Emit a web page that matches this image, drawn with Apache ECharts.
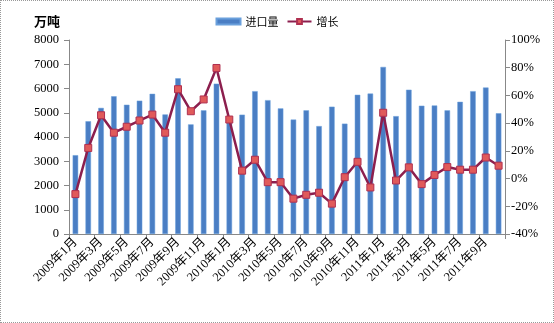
<!DOCTYPE html>
<html><head><meta charset="utf-8">
<script src="https://cdn.jsdelivr.net/npm/echarts@6/dist/echarts.min.js"></script>
<style>
html,body{margin:0;padding:0;background:#fff;}
#c{width:554px;height:323px;box-sizing:border-box;border:1px dotted #999;}
</style></head>
<body><div id="c"></div>
<script>
const categories = [];
const years = [2009, 2010, 2011];
for (const y of years) { for (let m = 1; m <= 12; m++) { if (y === 2011 && m > 10) break; categories.push(y + '年' + m + '月'); } }
const importVolume = [3250, 4650, 5200, 5680, 5330, 5500, 5780, 4930, 6420, 4520, 5100, 6200,
  4830, 4920, 5890, 5520, 5180, 4720, 5100, 4450, 5250, 4550, 5740, 5790,
  6890, 4860, 5950, 5290, 5300, 5100, 5450, 5890, 6040, 4980];
const growth = [-11.2, 22.1, 45.7, 33.1, 37.4, 41.9, 46.2, 33.1, 64.5, 48.6, 57.1, 79.8,
  42.6, 5.7, 13.6, -2.6, -2.6, -14.5, -11.7, -10.2, -18.1, 1.0, 12.1, -6.4,
  47.5, -1.4, 8.1, -4.0, 2.6, 8.3, 6.4, 6.4, 15.2, 9.3];
const leftTicks = [0, 1000, 2000, 3000, 4000, 5000, 6000, 7000, 8000];
const rightTicks = [-40, -20, 0, 20, 40, 60, 80, 100];

const font = '"Liberation Serif","Noto Sans CJK SC",serif';
const chart = echarts.init(document.getElementById('c'));
chart.setOption({
  animation: false,
  textStyle: { fontFamily: font },
  title: { text: '万吨', left: 28, top: 9, textStyle: { fontSize: 13, fontWeight: 'bold', color: '#000', fontFamily: '"Noto Sans CJK SC",serif' } },
  legend: {
    top: 10, left: 'center', itemGap: 8, itemWidth: 24, itemHeight: 6,
    textStyle: { fontSize: 11, color: '#000', fontFamily: '"Noto Sans CJK SC",serif' },
    data: [{ name: '进口量', icon: 'rect' }, { name: '增长' }]
  },
  grid: { left: 68, right: 48, top: 39, bottom: 88 },
  xAxis: {
    type: 'category', data: categories,
    axisLine: { lineStyle: { color: '#888' } },
    axisTick: { show: true, interval: 1, lineStyle: { color: '#888' } },
    axisLabel: { interval: 1, rotate: 45, fontSize: 12.5, color: '#000', fontFamily: font, margin: 6 }
  },
  yAxis: [
    { type: 'value', min: leftTicks[0], max: leftTicks[leftTicks.length - 1], interval: 1000,
      axisLine: { show: true, lineStyle: { color: '#888' } }, axisTick: { show: true, lineStyle: { color: '#888' } },
      splitLine: { show: false },
      axisLabel: { fontSize: 12.5, color: '#000', fontFamily: font, margin: 10, formatter: v => String(v) } },
    { type: 'value', min: rightTicks[0], max: rightTicks[rightTicks.length - 1], interval: 20,
      axisLine: { show: true, lineStyle: { color: '#888' } }, axisTick: { show: true, lineStyle: { color: '#888' } },
      splitLine: { show: false },
      axisLabel: { fontSize: 12.5, color: '#000', fontFamily: font, formatter: '{value}%', margin: 6 } }
  ],
  series: [
    { name: '进口量', type: 'bar', data: importVolume, barWidth: 5.5,
      itemStyle: { color: '#4a7ec4', borderColor: '#6aa0dc', borderWidth: 0.5 } },
    { name: '增长', type: 'line', yAxisIndex: 1, data: growth,
      symbol: 'rect', symbolSize: 7,
      lineStyle: { color: '#8c1f4e', width: 2.5 },
      itemStyle: { color: '#e05a5a', borderColor: '#b03050', borderWidth: 1 } }
  ]
});
</script></body></html>
